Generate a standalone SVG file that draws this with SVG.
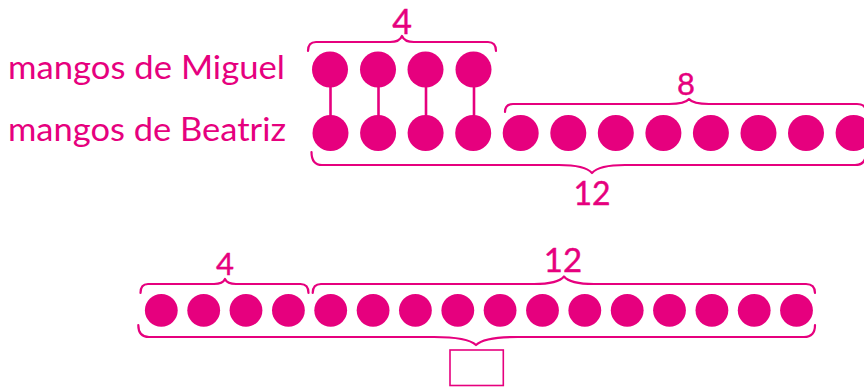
<svg xmlns="http://www.w3.org/2000/svg" width="864" height="387" viewBox="0 0 864 387">
<style>
.t{font-family:Lato,"Open Sans","Liberation Sans",sans-serif;fill:#E6007E}
.n{font-family:Lato,"Open Sans","Liberation Sans",sans-serif;fill:#E6007E;text-anchor:middle}
.b{fill:none;stroke:#E6007E;stroke-width:2.2;stroke-linejoin:round;stroke-linecap:round}
.c{fill:#E6007E}
.l{stroke:#E6007E;stroke-width:2.6}
</style>
<rect width="864" height="387" fill="#fff"/>
<g id="labels">
<text class="t" x="8" y="78.5" font-size="33" textLength="277" lengthAdjust="spacingAndGlyphs">mangos de Miguel</text>
<text class="t" x="8" y="140.5" font-size="33" textLength="278" lengthAdjust="spacingAndGlyphs">mangos de Beatriz</text>
</g>
<g id="connectors">
<line class="l" x1="330.5" y1="86" x2="330.5" y2="116"/>
<line class="l" x1="378.5" y1="86" x2="378.5" y2="116"/>
<line class="l" x1="426" y1="86" x2="426" y2="116"/>
<line class="l" x1="474" y1="86" x2="474" y2="116"/>
</g>
<g id="miguel">
<circle class="c" cx="330" cy="69.5" r="18"/>
<circle class="c" cx="378" cy="69.5" r="18"/>
<circle class="c" cx="425.5" cy="69.5" r="18"/>
<circle class="c" cx="473.5" cy="69.5" r="18"/>
</g>
<g id="beatriz">
<circle class="c" cx="330.5" cy="133" r="18"/>
<circle class="c" cx="378.1" cy="133" r="18"/>
<circle class="c" cx="425.6" cy="133" r="18"/>
<circle class="c" cx="473.2" cy="133" r="18"/>
<circle class="c" cx="520.7" cy="133" r="18"/>
<circle class="c" cx="568.3" cy="133" r="18"/>
<circle class="c" cx="615.8" cy="133" r="18"/>
<circle class="c" cx="663.4" cy="133" r="18"/>
<circle class="c" cx="710.9" cy="133" r="18"/>
<circle class="c" cx="758.5" cy="133" r="18"/>
<circle class="c" cx="806" cy="133" r="18"/>
<circle class="c" cx="853.6" cy="133" r="18"/>
</g>
<g id="braces-top">
<path class="b" d="M308,51 Q308,42 316,42 L390,42 Q399.6,42 402,36 Q404.4,42 414,42 L488,42 Q496,42 496,51"/>
<text class="n" x="402" y="33.5" font-size="34" stroke="#E6007E" stroke-width="0.4">4</text>
<path class="b" d="M505,112 Q505,104 513,104 L669,104 Q685,104 689,99 Q693,104 709,104 L857,104 Q866,104 866,112"/>
<text class="n" x="686" y="94.5" font-size="31" stroke="#E6007E" stroke-width="0.4">8</text>
<path class="b" d="M311.5,152 Q311.5,165 322,165 L559,165 Q585,165 592,173 Q599,165 625,165 L855,165 Q866,165 866,153"/>
<text class="n" x="592" y="205" font-size="32" stroke="#E6007E" stroke-width="0.4">12</text>
</g>
<g id="bottom-row">
<circle class="c" cx="161.3" cy="310.3" r="16.4"/>
<circle class="c" cx="203.7" cy="310.3" r="16.4"/>
<circle class="c" cx="246" cy="310.3" r="16.4"/>
<circle class="c" cx="288.4" cy="310.3" r="16.4"/>
<circle class="c" cx="330.7" cy="310.3" r="16.4"/>
<circle class="c" cx="373.1" cy="310.3" r="16.4"/>
<circle class="c" cx="415.4" cy="310.3" r="16.4"/>
<circle class="c" cx="457.8" cy="310.3" r="16.4"/>
<circle class="c" cx="500.1" cy="310.3" r="16.4"/>
<circle class="c" cx="542.5" cy="310.3" r="16.4"/>
<circle class="c" cx="584.8" cy="310.3" r="16.4"/>
<circle class="c" cx="627.2" cy="310.3" r="16.4"/>
<circle class="c" cx="669.5" cy="310.3" r="16.4"/>
<circle class="c" cx="711.9" cy="310.3" r="16.4"/>
<circle class="c" cx="754.2" cy="310.3" r="16.4"/>
<circle class="c" cx="796.5" cy="310.3" r="16.4"/>
</g>
<g id="braces-bottom">
<path class="b" d="M140.5,293 Q140.5,284 148,284 L214,284 Q222.8,284 225,279 Q227.2,284 236,284 L300.5,284 Q308.5,284 308.5,293"/>
<text class="n" x="225" y="275" font-size="31" stroke="#E6007E" stroke-width="0.4">4</text>
<path class="b" d="M312.7,293 Q312.7,284 321,284 L534,284 Q558,284 564,276.5 Q570,284 594,284 L806,284 Q815,284 815,293"/>
<text class="n" x="563" y="272" font-size="33" stroke="#E6007E" stroke-width="0.4">12</text>
<path class="b" d="M138.3,325 Q138.3,337 149,337 L434,337 Q467.6,337 476,345 Q484.4,337 518,337 L804,337 Q815,337 815,325"/>
</g>
<g id="answer-box">
<rect x="450" y="350" width="53.3" height="35.5" fill="#fff" stroke="#E6007E" stroke-width="1.6"/>
</g>
</svg>
